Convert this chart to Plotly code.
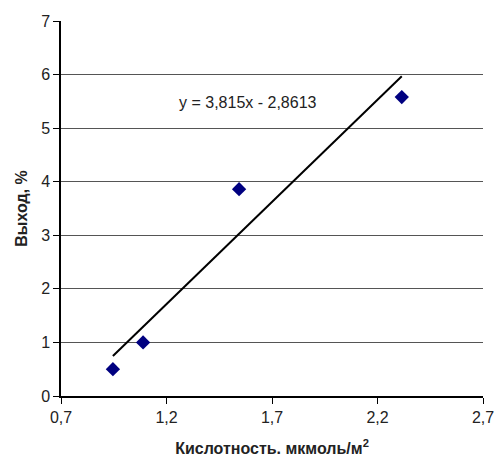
import plotly.graph_objects as go

# Data
acidity = [0.946, 1.089, 1.544, 2.315]
yield_pct = [0.50, 1.00, 3.86, 5.58]
slope = 3.815
intercept = -2.8613
x_ticks = [0.7, 1.2, 1.7, 2.2, 2.7]
x_tick_labels = ["0,7", "1,2", "1,7", "2,2", "2,7"]
y_ticks = [0, 1, 2, 3, 4, 5, 6, 7]
equation = "y = 3,815x - 2,8613"

x_line = [min(acidity), max(acidity)]
y_line = [slope * v + intercept for v in x_line]

fig = go.Figure()
fig.add_trace(go.Scatter(
    x=acidity, y=yield_pct, mode="markers",
    marker=dict(symbol="diamond", size=11, color="#000080"),
    showlegend=False, cliponaxis=False,
))
fig.add_trace(go.Scatter(
    x=x_line, y=y_line, mode="lines",
    line=dict(color="black", width=2),
    showlegend=False,
))

fig.add_annotation(
    x=1.586, y=5.47, text=equation, showarrow=False,
    font=dict(family="Liberation Sans, Arial", size=16, color="#222"),
)

fig.update_layout(
    width=497, height=457,
    margin=dict(l=61, r=14, t=21, b=61, autoexpand=False),
    paper_bgcolor="white", plot_bgcolor="white",
    font=dict(family="Liberation Sans, Arial", size=16, color="#222"),
)
fig.update_xaxes(
    range=[0.7, 2.7], tickvals=x_ticks, ticktext=x_tick_labels,
    showgrid=False, showline=True, linecolor="black", linewidth=1.5,
    ticks="outside", ticklen=6, tickcolor="black",
    zeroline=False, automargin=False,
    title=dict(text="<b>Кислотность. мкмоль/м<sup>2</sup></b>", font=dict(size=16), standoff=20),
)
fig.update_yaxes(
    range=[0, 7], tickvals=y_ticks,
    showgrid=True, gridcolor="#555", gridwidth=1,
    showline=True, linecolor="black", linewidth=1.5,
    ticks="outside", ticklen=6, tickcolor="black",
    zeroline=False, automargin=False,
    title=dict(text="<b>Выход, %</b>", font=dict(size=16), standoff=10),
)

fig.write_html("out.html")
